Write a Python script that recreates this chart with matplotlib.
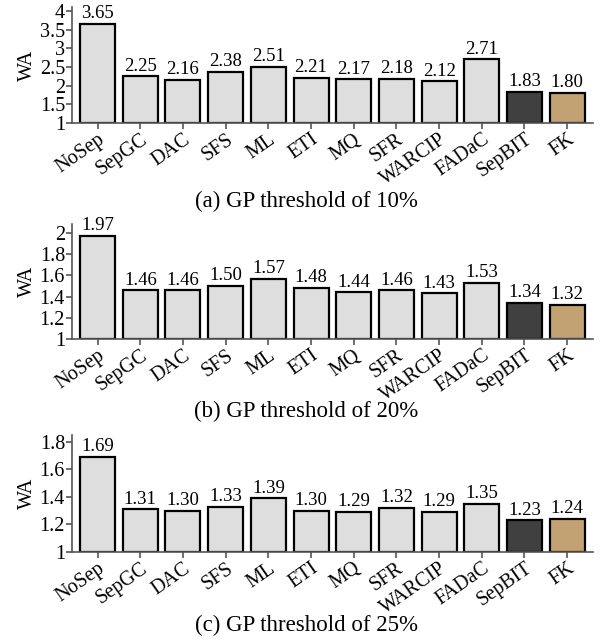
import numpy as np
import matplotlib
matplotlib.use('Agg')
import matplotlib.pyplot as plt
from matplotlib import transforms

plt.rcParams['font.family'] = ['Liberation Serif', 'DejaVu Serif']

schemes = ['NoSep', 'SepGC', 'DAC', 'SFS', 'ML', 'ETI', 'MQ', 'SFR',
           'WARCIP', 'FADaC', 'SepBIT', 'FK']
wa_10 = [3.65, 2.25, 2.16, 2.38, 2.51, 2.21, 2.17, 2.18, 2.12, 2.71, 1.83, 1.80]
wa_20 = [1.97, 1.46, 1.46, 1.50, 1.57, 1.48, 1.44, 1.46, 1.43, 1.53, 1.34, 1.32]
wa_25 = [1.69, 1.31, 1.30, 1.33, 1.39, 1.30, 1.29, 1.32, 1.29, 1.35, 1.23, 1.24]

captions = ['(a) GP threshold of 10%', '(b) GP threshold of 20%',
            '(c) GP threshold of 25%']
yticks_list = [[1, 1.5, 2, 2.5, 3, 3.5, 4],
               [1, 1.2, 1.4, 1.6, 1.8, 2],
               [1, 1.2, 1.4, 1.6, 1.8]]
ytop = [4.1, 2.08, 1.85]

colors = ['#dedede'] * 10 + ['#404040', '#c2a273']
spine_col = '#555555'

fig = plt.figure(figsize=(6, 6.44), dpi=100)

# axes rectangles (left, bottom, width, height) in figure fraction
rects = [[0.12, 0.809, 0.868, 0.1795],
         [0.12, 0.4736, 0.868, 0.1778],
         [0.12, 0.1429, 0.868, 0.1817]]
caption_y = [0.6786, 0.3525, 0.0202]

for vals, rect, yt, top, cap, cy in zip([wa_10, wa_20, wa_25], rects,
                                         yticks_list, ytop, captions, caption_y):
    ax = fig.add_axes(rect)
    x = np.arange(len(schemes))
    ax.bar(x, np.array(vals) - 1, bottom=1, width=0.82, color=colors,
           edgecolor='black', linewidth=1.6)
    for xi, v in zip(x, vals):
        ax.text(xi, v + (top - 1) * 0.015, f'{v:.2f}', ha='center', va='bottom',
                fontsize=13.5)
    ax.set_xlim(-0.6, len(schemes) - 0.4)
    ax.set_ylim(1, top)
    ax.set_yticks(yt)
    ax.set_yticklabels([f'{t:g}' for t in yt], fontsize=14.5)
    ax.set_xticks(x)
    offset = transforms.ScaledTranslation(6 / 72, -1 / 72, fig.dpi_scale_trans)
    ax.set_xticklabels(schemes, rotation=35, ha='right', rotation_mode='anchor',
                       fontsize=14.5)
    for lbl in ax.get_xticklabels():
        lbl.set_transform(lbl.get_transform() + offset)
    ax.set_ylabel('WA', fontsize=14.5, labelpad=2)
    for s in ['top', 'right']:
        ax.spines[s].set_visible(False)
    for s in ['left', 'bottom']:
        ax.spines[s].set_color(spine_col)
        ax.spines[s].set_linewidth(1.2)
    ax.tick_params(axis='both', colors=spine_col, labelcolor='black',
                   length=4, width=1.2, pad=1)
    fig.text(0.511, cy, cap, ha='center', va='baseline', fontsize=16.5)

fig.savefig('out.png', dpi=100)
